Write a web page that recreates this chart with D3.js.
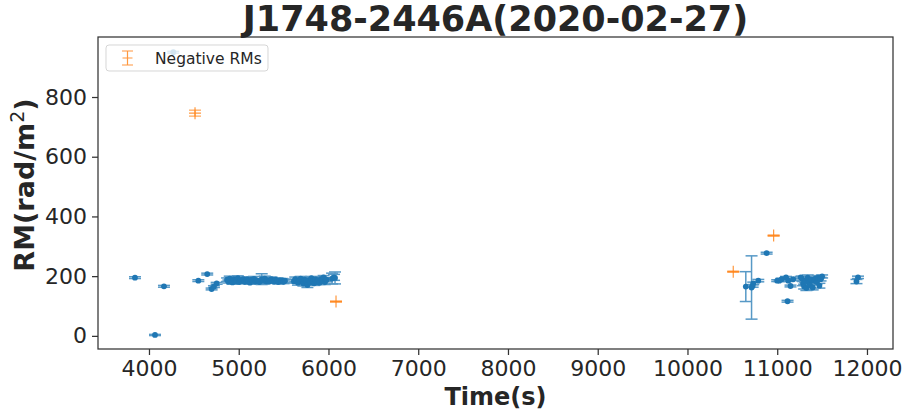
<!DOCTYPE html>
<html>
<head>
<meta charset="utf-8">
<script src="https://cdn.jsdelivr.net/npm/d3@7"></script>
<style>
  html, body { margin: 0; padding: 0; background: #fff; }
  svg { display: block; font-family: "DejaVu Sans", sans-serif; }
</style>
</head>
<body>
<svg id="chart" width="909" height="412"></svg>
<script>
// Rotation measures (positive) over time
const times = [
  3844, 4067, 4167, 4271, 4550, 4649, 4698, 4724, 4754,
  4870, 4885, 4900, 4915, 4930, 4945, 4960, 4975, 4990, 5005, 5020, 5035, 5050, 5065, 5080,
  5095, 5110, 5125, 5140, 5155, 5170, 5185, 5200, 5215, 5230, 5256, 5275, 5290, 5305, 5320,
  5335, 5350, 5365, 5380, 5395, 5410, 5425, 5440, 5455, 5470, 5485, 5500, 5515,
  5615, 5630, 5645, 5660, 5675, 5690, 5705, 5720, 5735, 5750, 5765, 5780, 5795, 5810, 5825,
  5840, 5855, 5870, 5885, 5900, 5915, 5930, 5945, 5960, 5979, 6040, 6062, 6073,
  10650, 10714, 10726, 10733, 10789, 10882, 11000, 11023, 11049, 11098, 11115, 11123, 11148, 11178,
  11262, 11275, 11288, 11300, 11312, 11325, 11340, 11352, 11365, 11380, 11395, 11410, 11425,
  11440, 11455, 11470, 11483, 11500, 11883, 11900
];
const rms = [
  195, 3, 166, 950, 185, 207, 157, 165, 176,
  188, 182, 192, 185, 179, 190, 186, 183, 193, 180, 187, 184, 190, 181, 186,
  189, 183, 178, 188, 185, 191, 182, 186, 184, 180, 190, 185, 192, 183, 187,
  181, 186, 190, 184, 182, 188, 185, 180, 186, 183, 187, 181, 185, 183,
  190, 183, 178, 186, 192, 181, 175, 188, 184, 170, 187, 179, 193, 183, 176,
  189, 181, 186, 178, 190, 184, 196, 180, 188, 192, 196, 194, 165,
  162, 167, 176, 185, 277, 185, 185, 190, 196, 116, 185, 167, 190, 196,
  192, 175, 165, 185, 160, 195, 178, 170, 188, 162, 185, 192, 180,
  195, 168, 190, 199, 182, 196, 182
];
const rmErrs = [
  3, 2, 3, 3, 3, 3, 3, 3, 3,
  6, 5, 8, 5, 6, 7, 5, 6, 8, 5, 6, 5, 7, 6, 5,
  8, 6, 5, 7, 6, 8, 5, 6, 5, 6, 18, 6, 8, 5, 6,
  5, 6, 7, 5, 6, 6, 5, 6, 5, 6, 5, 6, 5, 6,
  7, 6, 8, 6, 7, 6, 8, 6, 7, 8, 6, 7, 6, 8, 7,
  6, 8, 7, 6, 8, 7, 6, 8, 7, 18, 10, 20, 50,
  106, 4, 4, 4, 3, 3, 3, 3, 3, 3, 3, 3, 3, 3,
  8, 7, 8, 6, 8, 9, 7, 8, 6, 8, 7, 8, 6,
  7, 8, 6, 5, 7, 4, 4
];

// Negative rotation measures, plotted by magnitude
const negTimes = [4513, 6084, 10510, 10960];
const negRms = [746, 115, 215, 336];
const negErrs = [10, 2, 2, 2];

const xTicks = [4000, 5000, 6000, 7000, 8000, 9000, 10000, 11000, 12000];
const yTicks = [0, 200, 400, 600, 800];

const blue = "#1f77b4", orange = "#ff7f0e", ink = "#262626";
const svg = d3.select("#chart");
const L = 98, R = 893, T = 37, B = 349;

const x = d3.scaleLinear().domain([3432, 12290]).range([L, R]);
const y = d3.scaleLinear().domain([-44, 1001]).range([B, T]);

// Axes
const xAxis = d3.axisBottom(x).tickValues(xTicks).tickSize(6).tickPadding(5).tickFormat(d3.format("d"));
const yAxis = d3.axisLeft(y).tickValues(yTicks).tickSize(6).tickPadding(5).tickFormat(d3.format("d"));

const gx = svg.append("g").attr("transform", `translate(0,${B})`).call(xAxis);
const gy = svg.append("g").attr("transform", `translate(${L},0)`).call(yAxis);
[gx, gy].forEach(g => {
  g.select(".domain").remove();
  g.selectAll(".tick line").attr("stroke", "#333").attr("stroke-width", 1.25);
  g.selectAll(".tick text").attr("fill", ink).style("font-size", "22px").style("font-family", "DejaVu Sans");
});

// Error bars with caps
const cap = 6;
function errorBars(g, ts, vs, es, color, opacity, width) {
  const d = ts.map((t, i) => ({ t, v: vs[i], e: es[i] }));
  const eg = g.append("g").attr("stroke", color).attr("stroke-width", width).attr("opacity", opacity);
  eg.selectAll("line.v").data(d).join("line").attr("class", "v")
    .attr("x1", p => x(p.t)).attr("x2", p => x(p.t))
    .attr("y1", p => y(p.v - p.e)).attr("y2", p => y(p.v + p.e));
  eg.selectAll("line.lo").data(d).join("line").attr("class", "lo")
    .attr("x1", p => x(p.t) - cap).attr("x2", p => x(p.t) + cap)
    .attr("y1", p => y(p.v - p.e)).attr("y2", p => y(p.v - p.e));
  eg.selectAll("line.hi").data(d).join("line").attr("class", "hi")
    .attr("x1", p => x(p.t) - cap).attr("x2", p => x(p.t) + cap)
    .attr("y1", p => y(p.v + p.e)).attr("y2", p => y(p.v + p.e));
  return d;
}

const plot = svg.append("g");
const pos = errorBars(plot, times, rms, rmErrs, blue, 0.75, 1.5);
plot.append("g").selectAll("circle").data(pos).join("circle")
  .attr("cx", p => x(p.t)).attr("cy", p => y(p.v)).attr("r", 2.9).attr("fill", blue);

const neg = errorBars(plot, negTimes, negRms, negErrs, orange, 0.7, 1.2);
const plus = 6;
plot.append("g").attr("stroke", orange).attr("stroke-width", 1.2).attr("opacity", 0.8)
  .selectAll("path").data(neg).join("path")
  .attr("d", p => `M${x(p.t) - plus},${y(p.v)}H${x(p.t) + plus}M${x(p.t)},${y(p.v) - plus}V${y(p.v) + plus}`);

// Frame
svg.append("rect").attr("x", L).attr("y", T).attr("width", R - L).attr("height", B - T)
  .attr("fill", "none").attr("stroke", "#333").attr("stroke-width", 1.25);

// Legend
const lg = svg.append("g");
lg.append("rect").attr("x", 106).attr("y", 45).attr("width", 162).attr("height", 26).attr("rx", 3)
  .attr("fill", "#fff").attr("fill-opacity", 0.8).attr("stroke", "#ccc").attr("stroke-opacity", 0.8);
const lx = 127.5, ly = 58;
lg.append("path").attr("stroke", orange).attr("stroke-width", 1.2).attr("opacity", 0.8)
  .attr("d", `M${lx},${ly - 7}V${ly + 7}M${lx - 5.5},${ly - 7}H${lx + 5.5}M${lx - 5.5},${ly + 7}H${lx + 5.5}M${lx - 5},${ly}H${lx + 5}`);
lg.append("text").attr("x", 155).attr("y", ly + 5.5).attr("fill", ink)
  .style("font-size", "15.5px").text("Negative RMs");

// Titles
svg.append("text").attr("x", (L + R) / 2).attr("y", 31).attr("text-anchor", "middle")
  .attr("fill", ink).style("font-size", "35px").style("font-weight", "bold")
  .text("J1748-2446A(2020-02-27)");
svg.append("text").attr("x", (L + R) / 2).attr("y", 405).attr("text-anchor", "middle")
  .attr("fill", ink).style("font-size", "24px").style("font-weight", "bold").text("Time(s)");
const yl = svg.append("text").attr("transform", `translate(34,${(T + B) / 2 - 8}) rotate(-90)`)
  .attr("text-anchor", "middle").attr("fill", ink).style("font-size", "27px").style("font-weight", "bold");
yl.append("tspan").text("RM(rad/m");
yl.append("tspan").attr("dy", -10).style("font-size", "19px").style("font-weight", "normal").text("2");
yl.append("tspan").attr("dy", 10).text(")");
</script>
</body>
</html>
